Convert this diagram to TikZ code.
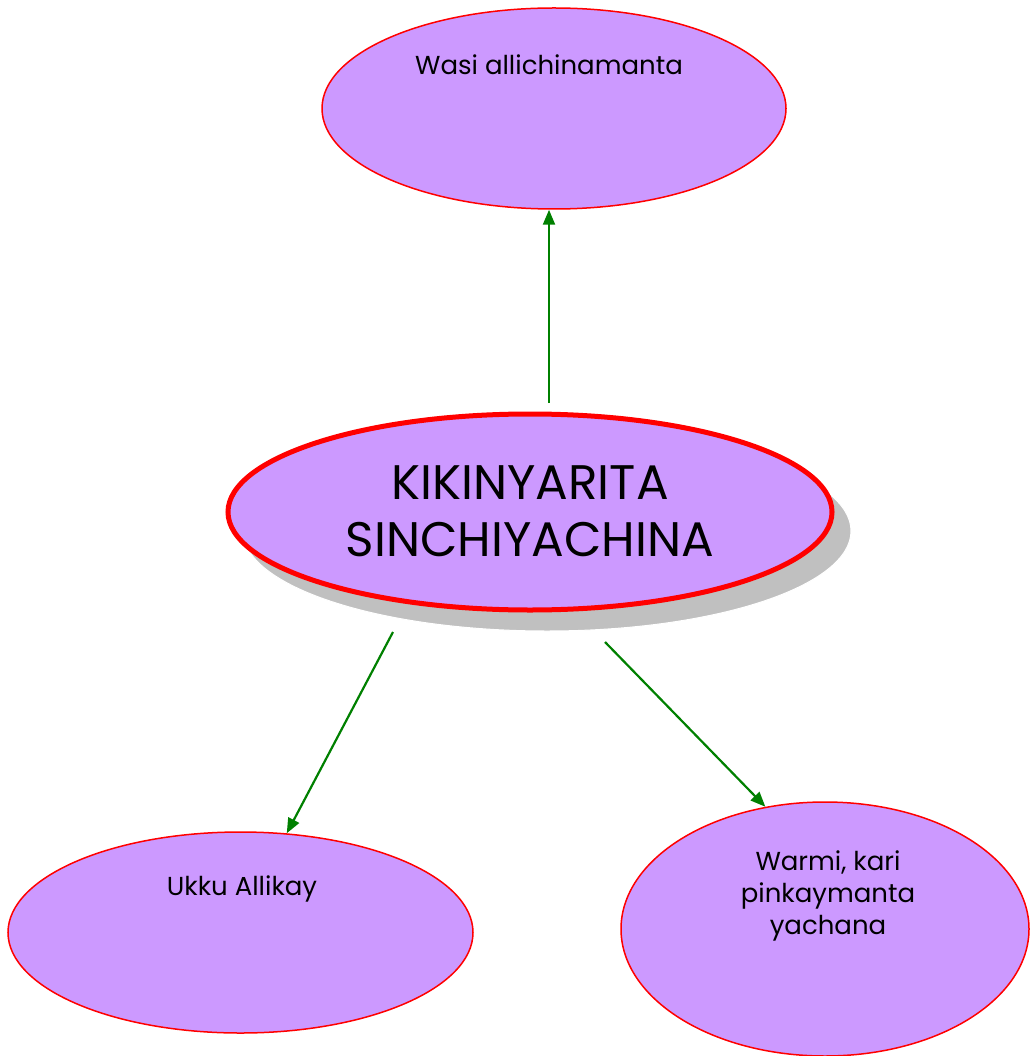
\documentclass[tikz,border=0pt]{standalone}
\usepackage{fontspec}
\setmainfont{Poppins}
\usetikzlibrary{shapes.geometric,arrows.meta}
\definecolor{lav}{HTML}{CC99FF}
\definecolor{grn}{HTML}{008000}
\definecolor{shad}{HTML}{C0C0C0}
\tikzset{
  bubble/.style={ellipse, draw=red, fill=lav, line width=1.5pt, inner sep=0pt},
  label small/.style={align=center, font=\fontsize{26}{32}\selectfont, inner sep=0pt},
  label big/.style={align=center, font=\fontsize{48.5}{57}\selectfont, inner sep=0pt},
  conn/.style={draw=grn, line width=2.2pt, -{Triangle[length=15pt,width=12pt]}},
}
\begin{document}
\begin{tikzpicture}[x=1pt,y=-1pt]
\useasboundingbox (0,0) rectangle (1029,1056);
% top
\node[bubble, minimum width=464pt, minimum height=201pt] (top) at (554,108.5) {};
\node[label small] (toptext) at (549,65) {Wasi allichinamanta};
% central shadow and ellipse
\node[ellipse, fill=shad, draw=white, line width=1pt, minimum width=608pt, minimum height=200pt] (shadow) at (547,531) {};
\node[bubble, line width=5pt, minimum width=604pt, minimum height=196pt] (mid) at (530,512) {};
\node[label big] (midtext) at (530,511) {KIKINYARITA\\SINCHIYACHINA};
% bottom left
\node[bubble, minimum width=465pt, minimum height=201pt] (bl) at (240.5,932.5) {};
\node[label small] (bltext) at (242,889) {Ukku Allikay};
% bottom right
\node[bubble, minimum width=408pt, minimum height=254pt] (br) at (825,929) {};
\node[label small] (brtext) at (828,896) {Warmi, kari\\pinkaymanta\\yachana};
% connectors
\coordinate (s1) at (549,403);
\coordinate (s2) at (393,632);
\coordinate (s3) at (605,642);
\draw[conn] (s1) -- (s1 |- top.south);
\draw[conn] (s2) -- (bl.65);
\draw[conn] (s3) -- (br.116);
\end{tikzpicture}
\end{document}
